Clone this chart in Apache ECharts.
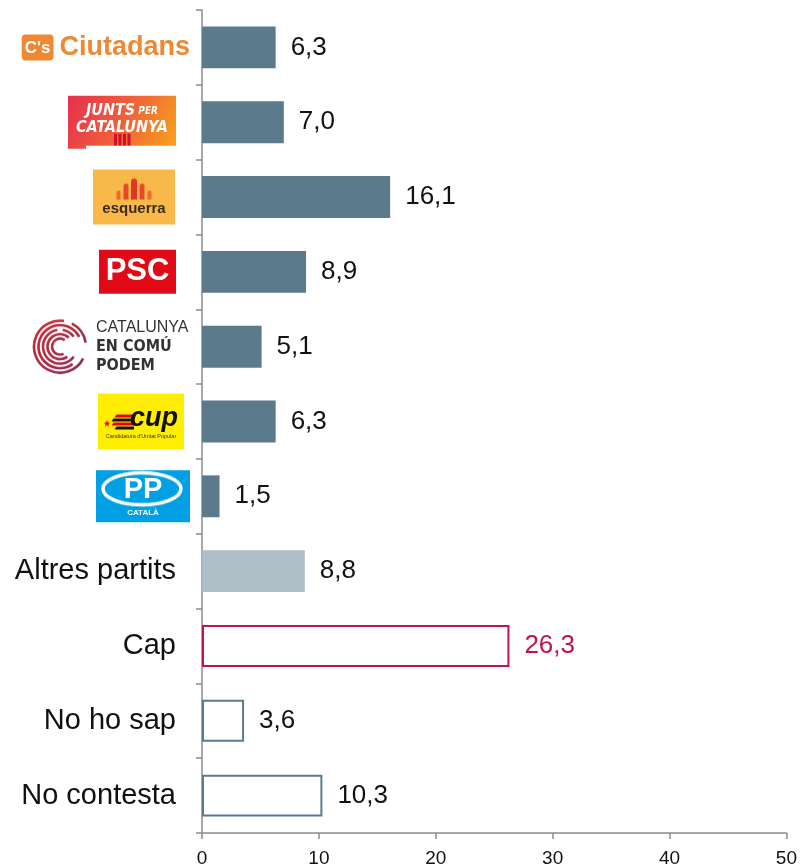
<!DOCTYPE html>
<html>
<head>
<meta charset="utf-8">
<script src="https://cdn.jsdelivr.net/npm/echarts@6/dist/echarts.min.js"></script>
<style>html,body{margin:0;padding:0;background:#fff;}#c{width:800px;height:868px;}</style>
</head>
<body>
<div id="c"></div>
<script>
// ---- data ----
var categories = ['Ciutadans', 'Junts per Catalunya', 'Esquerra', 'PSC', 'Catalunya en Comú Podem', 'CUP', 'PP', 'Altres partits', 'Cap', 'No ho sap', 'No contesta'];
var values = [6.3, 7.0, 16.1, 8.9, 5.1, 6.3, 1.5, 8.8, 26.3, 3.6, 10.3];
var groups = ['party', 'party', 'party', 'party', 'party', 'party', 'party', 'other', 'none', 'nsnc', 'nsnc'];
var xTicks = [0, 10, 20, 30, 40, 50];

// ---- decorative logo backgrounds (canvas) ----
function mk(w, h, draw) {
  var c = document.createElement('canvas');
  c.width = w; c.height = h;
  draw(c.getContext('2d'), w, h);
  return c;
}
var juntsBg = mk(126, 53, function (g) {
  var gr = g.createLinearGradient(0, 0, 108, 53);
  gr.addColorStop(0, '#E6304F'); gr.addColorStop(0.5, '#F0603A'); gr.addColorStop(1, '#F8A41A');
  g.fillStyle = gr; g.fillRect(0, 0, 108, 50);
  g.fillRect(0, 50, 18, 3);
  g.fillStyle = '#D2102C';
  for (var i = 0; i < 4; i++) g.fillRect(46 + i * 4.5, 38, 3, 12);
});
var esqBg = mk(101, 55, function (g) {
  g.fillStyle = '#F9B94A'; g.fillRect(0, 0, 82, 55);
  function f(x, y0, w, col) {
    g.fillStyle = col; g.beginPath();
    g.moveTo(x - w / 2, 30); g.lineTo(x - w / 2, y0 + w / 2);
    g.arc(x, y0 + w / 2, w / 2, Math.PI, 0); g.lineTo(x + w / 2, 30); g.closePath(); g.fill();
  }
  f(41, 9, 6, '#E2352A'); f(33, 14, 5, '#E8482A'); f(49, 14, 5, '#E8482A');
  f(25.5, 21, 4, '#EE6A24'); f(56.5, 21, 4, '#EE6A24');
});
var pscBg = mk(95, 44, function (g) { g.fillStyle = '#E30A17'; g.fillRect(0, 0, 77, 44); });
var comuBg = mk(162, 57, function (g) {
  var gr = g.createLinearGradient(0, 0, 57, 57);
  gr.addColorStop(0, '#D92A2A'); gr.addColorStop(1, '#7E2B5E');
  g.strokeStyle = gr; g.lineWidth = 2.6; g.lineCap = 'butt';
  var cx = 28, cy = 28.5;
  var arcs = [[26, 0.15, 1.55], [26, 1.65, 1.95], [21.5, 0.3, 1.85], [17, 0.2, 1.45], [17, 1.55, 1.8], [12.5, 0.3, 1.75], [8, 0.35, 1.7]];
  arcs.forEach(function (a) { g.beginPath(); g.arc(cx, cy, a[0], a[1] * Math.PI, a[2] * Math.PI); g.stroke(); });
});
var cupBg = mk(96, 56, function (g) {
  g.fillStyle = '#FFEE00'; g.fillRect(0, 0, 86, 56);
  var cols = ['#E2001A', '#111', '#E2001A', '#111'];
  for (var i = 0; i < 4; i++) {
    g.fillStyle = cols[i];
    var y = 21 + i * 4;
    var ins = Math.abs(i - 1.5) * 3;
    g.beginPath(); g.moveTo(14 + ins, y); g.lineTo(36, y); g.lineTo(36, y + 3); g.lineTo(12 + ins, y + 3); g.closePath(); g.fill();
  }
  g.fillStyle = '#E2001A'; g.font = '9px DejaVu Sans'; g.fillText('\u2605', 5, 33);
});
var ppBg = mk(98, 52, function (g) {
  g.fillStyle = '#00A0E2'; g.fillRect(0, 0, 94, 52);
  g.strokeStyle = '#fff'; g.lineWidth = 3.5;
  g.beginPath(); g.ellipse(46, 18.5, 39, 16, 0, 0, Math.PI * 2); g.stroke();
});

var labelText = {
  'Ciutadans': "{cs|C's}{ct|Ciutadans}",
  'Junts per Catalunya': '{jt|JUNTS}{jp| PER}\n{jt|CATALUNYA}\n{sp| }',
  'Esquerra': '{sp2| }\n{eq|esquerra}',
  'PSC': '{psc|PSC}',
  'Catalunya en Comú Podem': '{ca|CATALUNYA}\n{cb|EN COMÚ}\n{cb|PODEM}',
  'CUP': '{cup|cup}\n{cups|Candidatura d\'Unitat Popular}',
  'PP': '{pp|PP}\n{cat|CATALÀ}'
};
var blockStyle = {
  'Junts per Catalunya': { width: 108, padding: [7, 18, 0, 0], backgroundColor: { image: juntsBg } },
  'Esquerra': { width: 82, padding: [8, 19, 7, 0], backgroundColor: { image: esqBg } },
  'PSC': { width: 77, padding: [0, 18, 0, 0], backgroundColor: { image: pscBg } },
  'Catalunya en Comú Podem': { width: 97, padding: [0, 1, 0, 64], backgroundColor: { image: comuBg } },
  'CUP': { width: 86, padding: [12, 10, 8, 0], backgroundColor: { image: cupBg } },
  'PP': { width: 94, padding: [4, 4, 4, 0], backgroundColor: { image: ppBg } }
};

var yData = categories.map(function (c) {
  return blockStyle[c] ? { value: c, textStyle: blockStyle[c] } : c;
});

var darkBar = '#5B7B8D', lightBar = '#AEBEC7', crimson = '#C0124E';
var styleFor = {
  party: { itemStyle: { color: darkBar }, labelColor: '#111' },
  other: { itemStyle: { color: lightBar }, labelColor: '#111' },
  none: { itemStyle: { color: '#fff', borderColor: crimson, borderWidth: 2 }, labelColor: crimson },
  nsnc: { itemStyle: { color: '#fff', borderColor: darkBar, borderWidth: 2 }, labelColor: '#111' }
};
var seriesData = values.map(function (v, i) {
  var s = styleFor[groups[i]];
  return { value: v, itemStyle: s.itemStyle, label: { color: s.labelColor } };
});

var FONT = 'Liberation Sans, Arial, sans-serif';
var chart = echarts.init(document.getElementById('c'), null, { renderer: 'canvas' });
chart.setOption({
  animation: false,
  backgroundColor: '#fff',
  grid: { left: 202, right: 13, top: 10, bottom: 35, containLabel: false },
  xAxis: {
    type: 'value', min: 0, max: 50, interval: 10,
    splitLine: { show: false },
    axisLine: { show: true, lineStyle: { color: '#8c8c8c', width: 1.5 } },
    axisTick: { show: true, length: 6, lineStyle: { color: '#8c8c8c', width: 1.5 } },
    axisLabel: { fontSize: 19, color: '#111', margin: 16, fontFamily: FONT,
      formatter: function (v) { return xTicks.indexOf(v) >= 0 ? String(v) : ''; } }
  },
  yAxis: {
    type: 'category', inverse: true, data: yData,
    axisLine: { show: true, lineStyle: { color: '#8c8c8c', width: 1.5 } },
    axisTick: { show: true, length: 6, lineStyle: { color: '#8c8c8c', width: 1.5 } },
    axisLabel: {
      interval: 0, margin: 8, fontFamily: FONT,
      formatter: function (v) { return labelText[v] || ('{txt|' + v + '}'); },
      rich: {
        txt: { fontSize: 29, color: '#111', fontFamily: FONT, padding: [0, 18, 0, 0] },
        cs: { backgroundColor: '#EE8833', color: '#fff', fontSize: 17, fontWeight: 'bold', fontFamily: FONT, padding: [5, 3, 4, 3], borderRadius: 4 },
        ct: { color: '#EE8833', fontSize: 27, fontWeight: 'bold', fontFamily: FONT, padding: [0, 4, 0, 6] },
        jt: { color: '#fff', fontSize: 16, fontWeight: 'bold', fontStyle: 'italic', fontFamily: 'DejaVu Sans Condensed', lineHeight: 17, align: 'center' },
        jp: { color: '#fff', fontSize: 10, fontWeight: 'bold', fontStyle: 'italic', fontFamily: 'DejaVu Sans Condensed', lineHeight: 17, align: 'center' },
        sp: { fontSize: 1, lineHeight: 12, color: 'transparent' },
        sp2: { fontSize: 1, lineHeight: 22, color: 'transparent' },
        eq: { color: '#3A2A1E', fontSize: 15, fontWeight: 'bold', fontFamily: FONT, lineHeight: 18, align: 'center' },
        psc: { color: '#fff', fontSize: 31, fontWeight: 'bold', fontFamily: FONT, lineHeight: 44, align: 'center' },
        ca: { color: '#333', fontSize: 16, fontFamily: FONT, lineHeight: 19, align: 'left' },
        cb: { color: '#333', fontSize: 16, fontWeight: 'bold', fontFamily: 'DejaVu Sans Condensed', lineHeight: 19, align: 'left' },
        cup: { color: '#111', fontSize: 27, fontWeight: 'bold', fontStyle: 'italic', fontFamily: FONT, lineHeight: 26, align: 'right', padding: [0, 6, 0, 0] },
        cups: { color: '#333', fontSize: 5.5, fontFamily: FONT, lineHeight: 10, align: 'center' },
        pp: { color: '#fff', fontSize: 29, fontWeight: 'bold', fontFamily: FONT, lineHeight: 32, align: 'center' },
        cat: { color: '#fff', fontSize: 8, fontWeight: 'bold', fontFamily: FONT, lineHeight: 12, align: 'center' }
      }
    }
  },
  series: [{
    type: 'bar', data: seriesData, barCategoryGap: '44%',
    label: {
      show: true, position: 'right', distance: 15, fontSize: 26, fontFamily: FONT,
      formatter: function (p) { return p.value.toFixed(1).replace('.', ','); }
    }
  }]
});
</script>
</body>
</html>
